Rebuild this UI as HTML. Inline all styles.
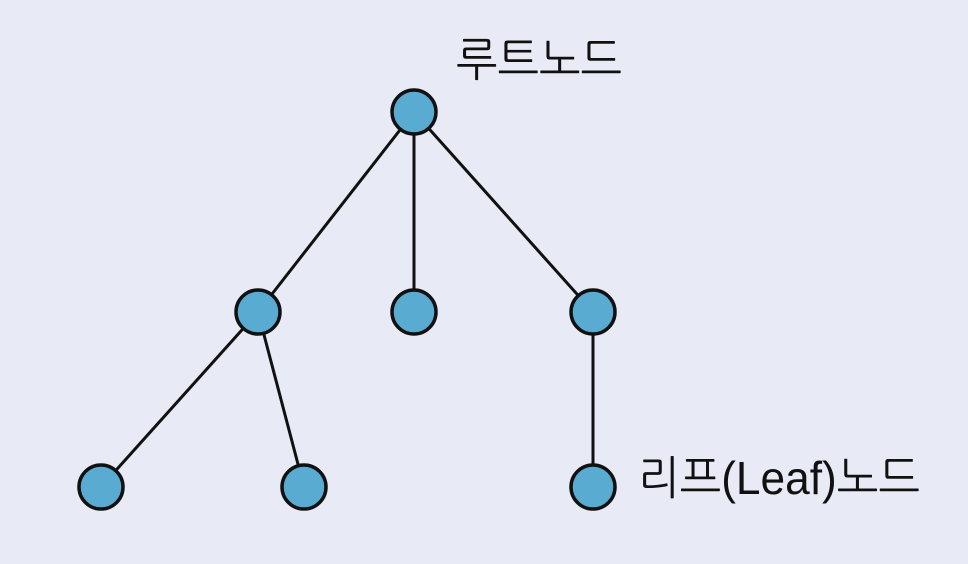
<!DOCTYPE html>
<html><head><meta charset="utf-8"><style>
html,body{margin:0;padding:0;background:#e8ebf5;}
svg{display:block}
</style></head><body>
<svg width="968" height="564" viewBox="0 0 968 564" xmlns="http://www.w3.org/2000/svg">
<rect width="968" height="564" fill="#e8ebf5"/>
<g stroke="#111" stroke-width="3" fill="none">
<line x1="414" y1="112" x2="258" y2="312"/>
<line x1="414" y1="112" x2="414" y2="312"/>
<line x1="414" y1="112" x2="593" y2="312"/>
<line x1="258" y1="312" x2="101" y2="487"/>
<line x1="258" y1="312" x2="304" y2="487"/>
<line x1="593" y1="312" x2="593" y2="487"/>
</g>
<g fill="#5aabd2" stroke="#111" stroke-width="3.5">
<circle cx="414" cy="112" r="22"/>
<circle cx="258" cy="312" r="22"/>
<circle cx="414" cy="312" r="22"/>
<circle cx="593" cy="312" r="22"/>
<circle cx="101" cy="487" r="22"/>
<circle cx="304" cy="487" r="22"/>
<circle cx="593" cy="487" r="22"/>
</g>
<g font-family="'Liberation Sans','NanumGothic','Noto Sans CJK KR',sans-serif" fill="#111">
<text x="456" y="76" font-size="46" textLength="166" lengthAdjust="spacingAndGlyphs">루트노드</text>
<text x="638" y="494" font-size="46" textLength="282" lengthAdjust="spacingAndGlyphs">리프(Leaf)노드</text>
</g>
</svg>
</body></html>
